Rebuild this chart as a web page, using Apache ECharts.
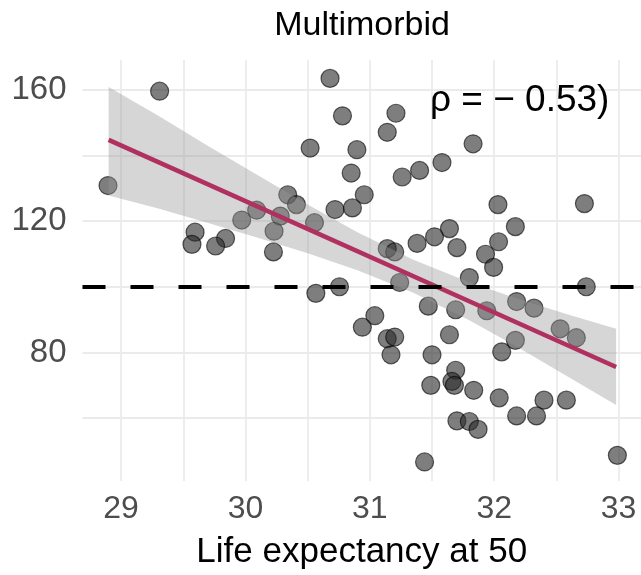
<!DOCTYPE html>
<html><head><meta charset="utf-8">
<script src="https://cdn.jsdelivr.net/npm/echarts@6/dist/echarts.min.js"></script>
<style>html,body{margin:0;padding:0;background:#fff}#c{width:641px;height:575px}</style>
</head><body><div id="c"></div>
<script>
// ---- data ----
const lifeExp = [
  30.68, 29.31, 30.78, 30.52, 30.85, 28.895, 30.34, 30.41, 30.72, 30.86, 30.09,
  30.28, 29.97, 30.555, 30.23, 29.595, 29.57, 29.84, 29.76, 30.225, 30.566, 30.756,
  31.21, 31.14, 30.896, 31.83, 31.58, 31.40, 31.26, 30.955, 32.03, 32.725, 32.17,
  31.64, 31.52, 31.38, 31.14, 31.20, 31.70, 32.035, 31.93, 31.995, 31.80, 31.24, 32.74,
  31.47, 31.69, 31.94, 32.18, 32.32, 31.04, 30.94, 31.14, 31.20, 31.17, 31.64,
  31.50, 32.17, 32.06, 32.53, 32.66, 31.69, 31.66, 31.68, 31.49, 31.835, 32.04,
  32.40, 32.58, 32.18, 32.34, 31.70, 31.80, 31.87, 31.44, 32.99
];
const multimorbid = [
  163.4, 159.5, 152.0, 142.2, 134.6, 130.8, 128.0, 125.0, 123.5, 124.0, 123.3,
  121.5, 120.3, 119.5, 116.9, 116.6, 112.9, 114.7, 112.4, 110.6, 98.0, 100.0,
  152.8, 147.0, 141.7, 143.5, 137.8, 135.4, 133.4, 128.0, 125.0, 125.3, 118.3,
  117.7, 115.2, 113.2, 111.6, 110.6, 111.9, 113.7, 109.9, 105.9, 102.8, 101.3, 100.0,
  94.1, 93.0, 92.7, 95.5, 93.5, 91.2, 87.7, 84.2, 84.7, 79.3, 85.4,
  79.3, 83.7, 80.2, 87.2, 84.5, 74.6, 71.2, 70.0, 70.0, 68.5, 66.2,
  65.5, 65.5, 60.7, 60.7, 59.2, 59.0, 56.6, 46.7, 48.7
];
const fitX = [28.9, 32.98];
const fitY = [144.7, 75.6];
const bandX     = [28.9,  29.3,  29.7,  30.1,  30.5,  30.9,  31.35, 31.8,  32.2,  32.6,  32.98];
const bandLower = [127.8, 123.8, 119.4, 114.9, 110.2, 105.0, 98.2,  89.8,  81.4,  72.5,  64.0];
const bandUpper = [160.8, 152.0, 142.8, 133.9, 125.0, 116.6, 108.2, 101.4, 96.2,  91.5,  87.2];
const refLevel = 100;
const xTickLabels = ['29', '30', '31', '32', '33'];
const yTickLabels = ['80', '120', '160'];
const titleText = 'Multimorbid';
const xAxisTitle = 'Life expectancy at 50';
const annotation = 'ρ = − 0.53)';

// ---- chart ----
const FONT = '"Liberation Sans", Arial, Helvetica, sans-serif';
const chart = echarts.init(document.getElementById('c'), null, {renderer: 'canvas'});
const points = lifeExp.map((x, i) => [x, multimorbid[i]]);
const fitData = fitX.map((x, i) => [x, fitY[i]]);
const bandData = bandX.map((x, i) => [x, bandLower[i], bandUpper[i]]);
const grid = '#ebebeb';

chart.setOption({
  animation: false,
  backgroundColor: '#fff',
  grid: {left: 82.5, right: 0, top: 60, bottom: 92, containLabel: false},
  xAxis: {
    type: 'value', min: 28.69, max: 33.18,
    splitNumber: 9, minInterval: 0.5, maxInterval: 0.5,
    axisLine: {show: false}, axisTick: {show: false},
    splitLine: {show: true, showMinLine: false, showMaxLine: false, lineStyle: {color: grid, width: 1.8}},
    axisLabel: {
      showMinLabel: false, showMaxLabel: false, margin: 12,
      color: '#4d4d4d', fontSize: 32, fontFamily: FONT,
      formatter: v => { const s = String(Math.round(v)); return (Math.abs(v - Math.round(v)) < 1e-6 && xTickLabels.includes(s)) ? s : ''; }
    },
    name: xAxisTitle, nameLocation: 'middle', nameGap: 54,
    nameTextStyle: {color: '#000', fontSize: 35, fontFamily: FONT}
  },
  yAxis: {
    type: 'value', min: 40.9, max: 169.0,
    splitNumber: 6, minInterval: 20, maxInterval: 20,
    axisLine: {show: false}, axisTick: {show: false},
    splitLine: {show: true, showMinLine: false, showMaxLine: false, lineStyle: {color: grid, width: 1.8}},
    axisLabel: {
      showMinLabel: false, showMaxLabel: false, margin: 16,
      color: '#4d4d4d', fontSize: 33, fontFamily: FONT,
      formatter: v => { const s = String(Math.round(v)); return (Math.abs(v - Math.round(v)) < 1e-6 && yTickLabels.includes(s)) ? s : ''; }
    }
  },
  graphic: [
    {type: 'text', x: 362, y: 26, z: 10,
     style: {text: titleText, fill: '#000', font: '34px ' + FONT, textAlign: 'center', textVerticalAlign: 'middle'}},
    {type: 'text', x: 430, y: 101, z: 10,
     style: {text: annotation, fill: '#000', font: '37px ' + FONT, textAlign: 'left', textVerticalAlign: 'middle'}}
  ],
  series: [
    {
      type: 'scatter', z: 2, data: points, symbolSize: 18,
      itemStyle: {color: 'rgba(40,40,40,0.75)', borderColor: 'rgba(0,0,0,0.75)', borderWidth: 1.2}
    },
    {
      type: 'custom', z: 3, data: bandData, silent: true,
      renderItem: (params, api) => {
        if (params.dataIndex !== 0) return null;
        const pts = [];
        for (let i = 0; i < bandX.length; i++) pts.push(api.coord([bandX[i], bandUpper[i]]));
        for (let i = bandX.length - 1; i >= 0; i--) pts.push(api.coord([bandX[i], bandLower[i]]));
        return {type: 'polygon', shape: {points: pts}, style: {fill: 'rgba(153,153,153,0.4)'}};
      }
    },
    {
      type: 'line', z: 4, data: fitData, showSymbol: false, silent: true,
      lineStyle: {color: '#B03060', width: 4.5},
      markLine: {
        silent: true, symbol: ['none', 'none'], label: {show: false},
        lineStyle: {color: '#000', width: 4, type: [23, 25]},
        data: [{yAxis: refLevel}]
      }
    }
  ]
});
</script></body></html>
